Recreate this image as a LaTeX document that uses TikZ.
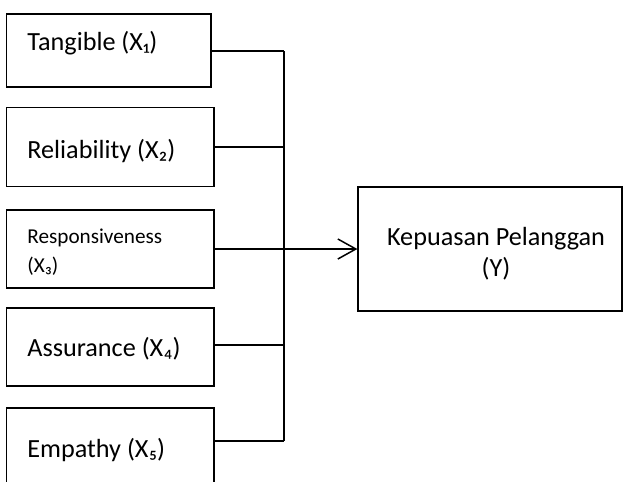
\documentclass[tikz,border=0pt]{standalone}
\usepackage{fontspec}
\setmainfont{Carlito}
\usepackage{tikz}
\usetikzlibrary{arrows.meta}

\begin{document}
\begin{tikzpicture}[x=0.5pt,y=-0.5pt,
    box/.style={draw,line width=0.6pt,inner sep=0pt},
    lbl/.style={inner sep=0pt,font=\fontsize{13.1}{15.5}\selectfont},
    small/.style={inner sep=0pt,align=left,font=\fontsize{10.6}{14.5}\selectfont},
    link/.style={line width=0.75pt},
    arr/.style={line width=0.75pt,-{Straight Barb[length=9pt,width=10pt,line width=0.75pt]}}]
  \useasboundingbox (0,0) rectangle (623,482);
  \clip (0,0) rectangle (623,482);

  % variabel bebas
  \node[box,minimum width=102.25pt,minimum height=36.5pt] (tang) at (108.75,50.5) {};
  \node[box,minimum width=103.75pt,minimum height=39.5pt] (rel) at (110.25,147) {};
  \node[box,minimum width=103.75pt,minimum height=39pt] (res) at (110.25,249) {};
  \node[box,minimum width=103.75pt,minimum height=39pt] (ass) at (110.25,347) {};
  \node[box,minimum width=103.75pt,minimum height=40pt] (emp) at (110.25,448) {};

  \node[lbl,anchor=base west] (tangtxt) at (27,51) {Tangible (X₁)};
  \node[lbl,anchor=base west] (reltxt) at (27,158) {Reliability (X₂)};
  \node[small,anchor=base west] (restxt) at (27,272) {Responsiveness\\(X₃)};
  \node[lbl,anchor=base west] (asstxt) at (27,357) {Assurance (X₄)};
  \node[lbl,anchor=base west] (emptxt) at (27,458) {Empathy (X₅)};

  % variabel terikat
  \node[box,minimum width=132pt,minimum height=62pt] (kep) at (490,249) {};
  \node[lbl,align=center] (keptxt) at (496,254) {Kepuasan Pelanggan\\(Y)};

  % garis penghubung
  \coordinate (bustop) at (284,51);
  \coordinate (busbot) at (284,441);
  \draw[link] (bustop) -- (busbot);
  \draw[link] (tang.east |- bustop) -- (bustop);
  \draw[link] (rel.east) -- (rel.east -| bustop);
  \draw[link] (res.east) -- (res.east -| bustop);
  \draw[link] (ass.east |- 0,345) -- (284,345);
  \draw[link] (emp.east |- busbot) -- (busbot);
  \draw[arr] (res.east -| bustop) -- (kep.west);
\end{tikzpicture}
\end{document}
